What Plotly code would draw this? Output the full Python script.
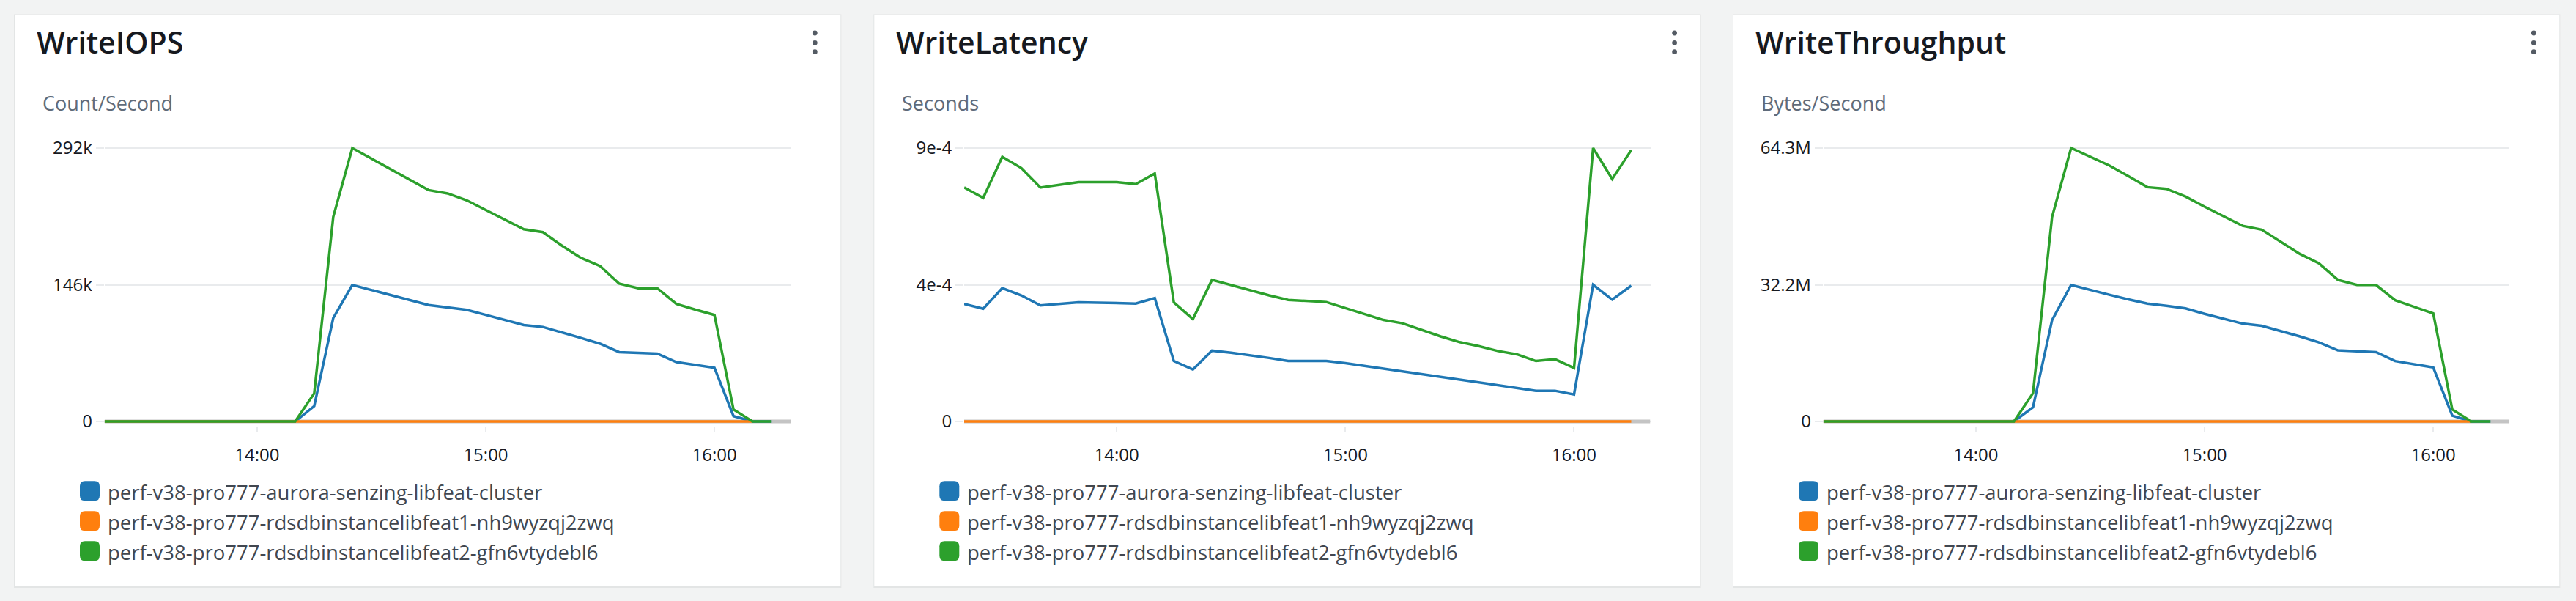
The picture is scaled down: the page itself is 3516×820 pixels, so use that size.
import plotly.graph_objects as go

W, H = 3516, 820

# ---------------- data ----------------
DAY = "2024-01-01 "
TIMES = ["13:20", "13:25", "13:30", "13:35", "13:40", "13:45", "13:50", "13:55",
         "14:00", "14:05", "14:10", "14:15", "14:20", "14:25", "14:30", "14:35",
         "14:40", "14:45", "14:50", "14:55", "15:00", "15:05", "15:10", "15:15",
         "15:20", "15:25", "15:30", "15:35", "15:40", "15:45", "15:50", "15:55",
         "16:00", "16:05", "16:10", "16:15"]
X_START, X_END = "13:20", "16:20"
X_TICKS = ["14:00", "15:00", "16:00"]

SERIES_NAMES = ["perf-v38-pro777-aurora-senzing-libfeat-cluster",
                "perf-v38-pro777-rdsdbinstancelibfeat1-nh9wyzqj2zwq",
                "perf-v38-pro777-rdsdbinstancelibfeat2-gfn6vtydebl6"]
COLORS = ["#1f77b4", "#ff7f0e", "#2ca02c"]

TITLES = ["WriteIOPS", "WriteLatency", "WriteThroughput"]
UNITS = ["Count/Second", "Seconds", "Bytes/Second"]

# WriteIOPS (Count/Second)
IOPS_CLUSTER = [0, 0, 0, 0, 0, 0, 0, 0, 0, 0, 0, 16400, 110500, 145800, 140500, 135200,
                129800, 124300, 121700, 119200, 113800, 108400, 103000, 100900, 95300, 89200,
                83000, 74000, 73200, 72400, 63400, 60100, 57300, 5700, 0, 0]
IOPS_INST1 = [0, 0, 0, 0, 0, 0, 0, 0, 0, 0, 0, 0, 0, 0, 0, 0, 0, 0, 0, 0, 0, 0, 0, 0,
              0, 0, 0, 0, 0, 0, 0, 0, 0, 0, 0, None]
IOPS_INST2 = [0, 0, 0, 0, 0, 0, 0, 0, 0, 0, 0, 30000, 218500, 292000, 280600, 269400,
              258300, 247100, 243500, 236200, 225900, 215600, 205300, 202200, 187700, 174600,
              166000, 147200, 142300, 142300, 125600, 119400, 113700, 12700, 0, 0]

# WriteLatency (Seconds)
LAT_CLUSTER = [3.87e-4, 3.71e-4, 4.39e-4, 4.15e-4, 3.82e-4, 3.87e-4, 3.92e-4, 3.91e-4, 3.90e-4,
               3.88e-4, 4.06e-4, 1.99e-4, 1.71e-4, 2.33e-4, 2.26e-4, 2.18e-4, 2.09e-4, 1.99e-4,
               1.99e-4, 1.99e-4, 1.92e-4, 1.83e-4, 1.73e-4, 1.65e-4, 1.56e-4, 1.47e-4, 1.37e-4,
               1.29e-4, 1.20e-4, 1.12e-4, 1.01e-4, 1.01e-4, 0.89e-4, 4.50e-4, 4.01e-4, 4.47e-4]
LAT_INST1 = [0, 0, 0, 0, 0, 0, 0, 0, 0, 0, 0, 0, 0, 0, 0, 0, 0, 0, 0, 0, 0, 0, 0, 0,
             0, 0, 0, 0, 0, 0, 0, 0, 0, 0, 0, 0]
LAT_INST2 = [7.70e-4, 7.36e-4, 8.71e-4, 8.34e-4, 7.70e-4, 7.79e-4, 7.88e-4, 7.88e-4, 7.88e-4,
             7.81e-4, 8.16e-4, 3.92e-4, 3.37e-4, 4.66e-4, 4.49e-4, 4.31e-4, 4.15e-4, 4.00e-4,
             3.97e-4, 3.93e-4, 3.73e-4, 3.53e-4, 3.34e-4, 3.23e-4, 3.01e-4, 2.80e-4, 2.61e-4,
             2.48e-4, 2.32e-4, 2.21e-4, 1.99e-4, 2.05e-4, 1.76e-4, 9.00e-4, 7.98e-4, 8.93e-4]

# WriteThroughput (Bytes/Second)
TPUT_CLUSTER = [0, 0, 0, 0, 0, 0, 0, 0, 0, 0, 0, 3330000, 23800000, 32100000, 30900000,
                29800000, 28700000, 27700000, 27200000, 26600000, 25300000, 24100000, 23000000,
                22500000, 21300000, 20000000, 18600000, 16700000, 16500000, 16300000, 14200000,
                13400000, 12700000, 1350000, 0, 0]
TPUT_INST1 = [0, 0, 0, 0, 0, 0, 0, 0, 0, 0, 0, 0, 0, 0, 0, 0, 0, 0, 0, 0, 0, 0, 0, 0,
              0, 0, 0, 0, 0, 0, 0, 0, 0, 0, 0, None]
TPUT_INST2 = [0, 0, 0, 0, 0, 0, 0, 0, 0, 0, 0, 6660000, 48100000, 64300000, 62300000,
              60200000, 57700000, 55100000, 54700000, 52900000, 50500000, 48300000, 46000000,
              45100000, 42200000, 39400000, 37200000, 33300000, 32100000, 32100000, 28500000,
              27000000, 25400000, 2800000, 0, 0]

Y_MAX = [292000, 9.0e-4, 64300000]
Y_TICKVALS = [[0, 146000, 292000], [0, 4.5e-4, 9.0e-4], [0, 32150000, 64300000]]
Y_TICKTEXT = [["0", "146k", "292k"], ["0", "4e-4", "9e-4"], ["0", "32.2M", "64.3M"]]

PANEL_SERIES = [[IOPS_CLUSTER, IOPS_INST1, IOPS_INST2],
                [LAT_CLUSTER, LAT_INST1, LAT_INST2],
                [TPUT_CLUSTER, TPUT_INST1, TPUT_INST2]]

# ---------------- layout helpers (pixels -> paper) ----------------
PANEL_LEFTS = [20, 1193.3, 2366]
PANEL_W = 1127.3
PANEL_TOP, PANEL_BOTTOM = 20, 800
PLOT_X0, PLOT_X1 = 122.7, 1059.2      # offsets inside a panel
PLOT_Y_TOP, PLOT_Y_BOT = 202, 575     # pixel rows of y max / y zero
PAD = 7

FONT = "Open Sans"
TITLE_C = "#16191f"
SUB_C = "#5f6b7a"
TEXT_C = "#16191f"
LEG_C = "#414750"
GRID_C = "#e9ebed"


def px(x):
    return x / W


def py(y):
    return 1 - y / H


def rrect_path(x0, y0, x1, y1, r):
    pts = [
        f"M{px(x0 + r)},{py(y0)}",
        f"L{px(x1 - r)},{py(y0)}",
        f"Q{px(x1)},{py(y0)} {px(x1)},{py(y0 + r)}",
        f"L{px(x1)},{py(y1 - r)}",
        f"Q{px(x1)},{py(y1)} {px(x1 - r)},{py(y1)}",
        f"L{px(x0 + r)},{py(y1)}",
        f"Q{px(x0)},{py(y1)} {px(x0)},{py(y1 - r)}",
        f"L{px(x0)},{py(y0 + r)}",
        f"Q{px(x0)},{py(y0)} {px(x0 + r)},{py(y0)}",
        "Z",
    ]
    return " ".join(pts)


fig = go.Figure()
shapes = []
annotations = []
layout_axes = {}

xs = [DAY + t for t in TIMES]

for k in range(3):
    L = PANEL_LEFTS[k]
    R = L + PANEL_W
    ax = "" if k == 0 else str(k + 1)

    # panel shadow + panel
    shapes.append(dict(type="rect", xref="paper", yref="paper",
                       x0=px(L - 1), x1=px(R + 1), y0=py(PANEL_BOTTOM + 2), y1=py(PANEL_TOP - 0.5),
                       fillcolor="#e3e5e5", line=dict(width=0), layer="below"))
    shapes.append(dict(type="rect", xref="paper", yref="paper",
                       x0=px(L), x1=px(R), y0=py(PANEL_BOTTOM), y1=py(PANEL_TOP),
                       fillcolor="#ffffff", line=dict(width=0), layer="below"))

    # kebab menu dots
    for cy in (45, 58.3, 70.7):
        cx = R - 35
        shapes.append(dict(type="circle", xref="paper", yref="paper",
                           x0=px(cx - 3.4), x1=px(cx + 3.4), y0=py(cy + 3.4), y1=py(cy - 3.4),
                           fillcolor="#545b64", line=dict(width=0), layer="above"))

    # titles
    annotations.append(dict(text=TITLES[k], xref="paper", yref="paper",
                            x=px(L + 27.5), y=py(57.5), xanchor="left", yanchor="middle",
                            showarrow=False,
                            font=dict(family=FONT, size=41, color=TITLE_C, weight=600)))
    annotations.append(dict(text=UNITS[k], xref="paper", yref="paper",
                            x=px(L + 35.5), y=py(141), xanchor="left", yanchor="middle",
                            showarrow=False, font=dict(family=FONT, size=27, color=SUB_C)))

    # legend
    for j in range(3):
        cyl = 669.7 + 41 * j
        shapes.append(dict(type="path", xref="paper", yref="paper",
                           path=rrect_path(L + 89, cyl - 13.5, L + 116, cyl + 13.5, 7),
                           fillcolor=COLORS[j], line=dict(width=0), layer="above"))
        annotations.append(dict(text=SERIES_NAMES[j], xref="paper", yref="paper",
                                x=px(L + 125), y=py(cyl + 1.5), xanchor="left", yanchor="middle",
                                showarrow=False, font=dict(family=FONT, size=27.5, color=LEG_C)))

    # axes
    ymax = Y_MAX[k]
    per_px = ymax / (PLOT_Y_BOT - PLOT_Y_TOP)
    yr = [-PAD * per_px, ymax + PAD * per_px]
    layout_axes["xaxis" + ax] = dict(
        domain=[px(L + PLOT_X0), px(L + PLOT_X1)],
        anchor="y" + ax, type="date", automargin=False,
        range=[DAY + X_START, DAY + X_END],
        tickmode="array", tickvals=[DAY + t for t in X_TICKS], ticktext=X_TICKS,
        showgrid=False, zeroline=False, showline=False,
        ticks="outside", ticklen=6, tickwidth=2, tickcolor=GRID_C,
        ticklabelstandoff=11,
        tickfont=dict(family=FONT, size=24, color=TEXT_C),
        fixedrange=True,
    )
    layout_axes["yaxis" + ax] = dict(
        domain=[py(PLOT_Y_BOT + PAD), py(PLOT_Y_TOP - PAD)],
        anchor="x" + ax, range=yr, automargin=False,
        tickmode="array", tickvals=Y_TICKVALS[k], ticktext=Y_TICKTEXT[k],
        showgrid=True, gridcolor=GRID_C, gridwidth=2,
        zeroline=False, showline=False,
        ticks="outside", ticklen=11, tickwidth=2, tickcolor=GRID_C,
        tickfont=dict(family=FONT, size=24, color=TEXT_C),
        fixedrange=True,
    )

    # grey baseline band along zero, across the full time window
    fig.add_trace(go.Scatter(
        x=[DAY + X_START, DAY + X_END], y=[0, 0], mode="lines",
        line=dict(color="#c4c4c4", width=5),
        xaxis="x" + ax, yaxis="y" + ax, showlegend=False, hoverinfo="skip",
    ))

    # series
    for j in range(3):
        fig.add_trace(go.Scatter(
            x=xs, y=PANEL_SERIES[k][j], mode="lines", name=SERIES_NAMES[j],
            line=dict(color=COLORS[j], width=3.5),
            xaxis="x" + ax, yaxis="y" + ax, showlegend=False, hoverinfo="skip",
        ))

fig.update_layout(
    width=W, height=H, autosize=False,
    margin=dict(l=0, r=0, t=0, b=0, pad=0, autoexpand=False),
    paper_bgcolor="#f2f3f3",
    plot_bgcolor="rgba(0,0,0,0)",
    showlegend=False,
    shapes=shapes,
    annotations=annotations,
    font=dict(family=FONT),
    **layout_axes,
)

fig.write_html("out.html", include_plotlyjs=True,
               config=dict(displayModeBar=False, responsive=False),
               post_script="document.body.style.margin='0';document.body.style.overflow='hidden';")
